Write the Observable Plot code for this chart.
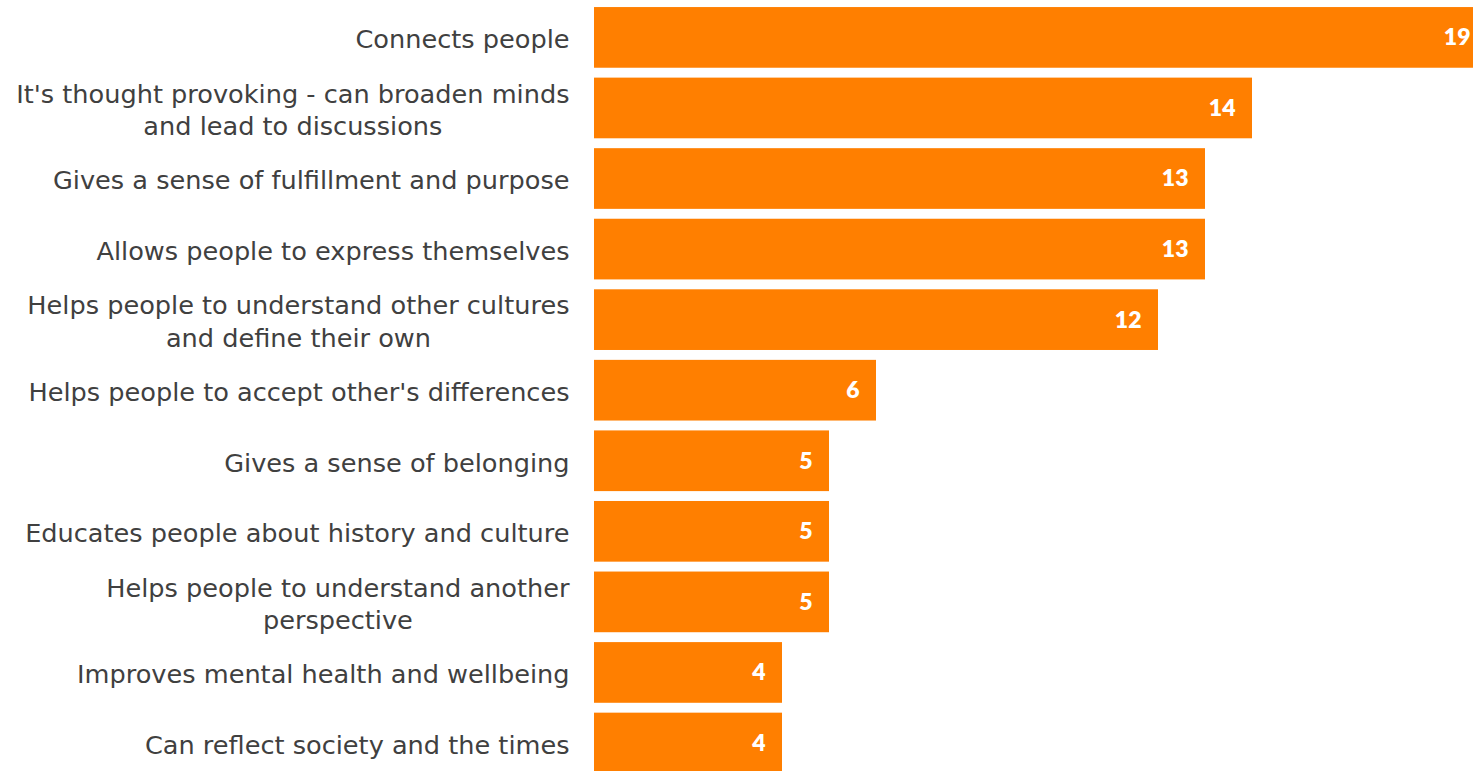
<!DOCTYPE html>
<html><head><meta charset="utf-8">
<script src="https://cdn.jsdelivr.net/npm/d3@7"></script>
<script src="https://cdn.jsdelivr.net/npm/@observablehq/plot@0.6"></script>
<style>html,body{margin:0;padding:0;overflow:hidden;background:#fff}</style>
</head><body><div id="chart"></div>
<script>
const categories = [
  "Connects people",
  "It's thought provoking - can broaden minds\nand lead to discussions",
  "Gives a sense of fulfillment and purpose",
  "Allows people to express themselves",
  "Helps people to understand other cultures\nand define their own",
  "Helps people to accept other's differences",
  "Gives a sense of belonging",
  "Educates people about history and culture",
  "Helps people to understand another\nperspective",
  "Improves mental health and wellbeing",
  "Can reflect society and the times"
];
const values = [19, 14, 13, 13, 12, 6, 5, 5, 5, 4, 4];
const data = categories.map((c, i) => ({category: c, value: values[i]}));

const plot = Plot.plot({
  width: 1473, height: 771,
  marginLeft: 594, marginRight: 0, marginTop: 0, marginBottom: 0,
  style: {background: "#fff", overflow: "visible"},
  x: {domain: [0, 19], range: [594, 1487], axis: null},
  y: {domain: categories, range: [0, 780.4], paddingInner: 0.14, paddingOuter: 0.1, round: false, axis: null},
  marks: [
    Plot.barX(data, {x: "value", y: "category", fill: "#FF7F00"}),
    Plot.text(data, {x: "value", y: "category", text: d => String(d.value), textAnchor: "end", dx: -17,
      fill: "white", fontWeight: 800, fontSize: 23, fontFamily: "Lato"}),
    Plot.text(data, {y: "category", frameAnchor: "left", text: "category", textAnchor: "end", dx: -25,
      fill: "#404040", fontSize: 25.6, fontFamily: "DejaVu Sans", lineHeight: 1.27})
  ]
});
document.getElementById("chart").append(plot);
plot.querySelectorAll("text").forEach(t => {
  const spans = t.querySelectorAll("tspan");
  if (spans.length > 1) {
    const W = Math.max(...[...spans].map(s => s.getComputedTextLength()));
    t.setAttribute("text-anchor", "middle");
    spans.forEach(s => s.setAttribute("x", (parseFloat(s.getAttribute("x")) || 0) - W / 2));
  }
});
</script>
</body></html>
